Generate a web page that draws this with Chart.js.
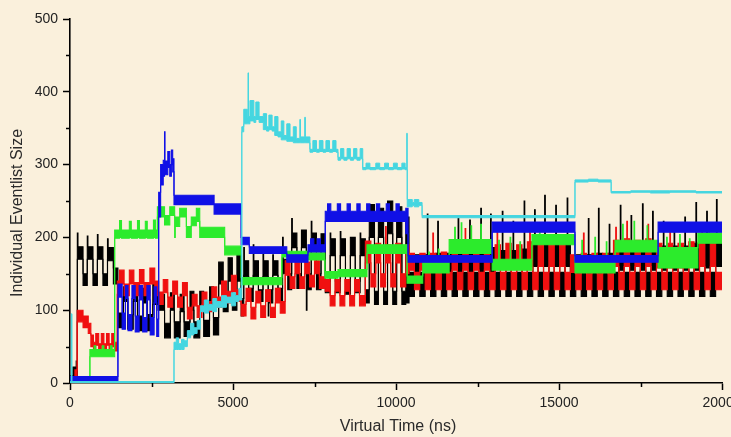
<!DOCTYPE html>
<html>
<head>
<meta charset="utf-8">
<script src="https://cdn.jsdelivr.net/npm/chart.js@4/dist/chart.umd.min.js"></script>
<style>
  html, body { margin: 0; padding: 0; overflow: hidden; background: #FAF0DC; }
  #wrap { width: 752px; height: 437px; }
</style>
</head>
<body>
<div id="wrap"><canvas id="c" width="752" height="437"></canvas></div>
<script>
// Event-list size of each logical process over virtual time.
// Each row: [start time (ns), low, high] - the list size swings between
// low and high from that time until the next row starts.
const END_TIME = 20000;

const xTitle = 'Virtual Time (ns)';
const yTitle = 'Individual Eventlist Size';
const xTicksMajor = [0, 5000, 10000, 15000, 20000];
const xTicksMinor = [2500, 7500, 12500, 17500];
const yTicksMinor = [50, 150, 250, 350, 450];

const blackRows = [
  [0, 3, 10], [90, 6, 22], [190, 10, 30],
  [225, 170, 206], [245, 170, 187], [400, 134, 150],
  [530, 170, 202], [550, 170, 187], [705, 134, 150],
  [840, 170, 204], [860, 170, 187], [1010, 134, 150],
  [1150, 170, 198], [1170, 168, 186], [1330, 136, 158],
  [1470, 76, 96], [1640, 112, 132], [1770, 74, 94], [1940, 112, 134],
  [2070, 72, 92], [2240, 110, 130], [2370, 72, 94], [2540, 108, 136],
  [2700, 100, 122], [2900, 62, 82], [3080, 100, 124], [3200, 62, 84],
  [3380, 98, 122], [3500, 64, 84], [3680, 100, 126], [3800, 62, 84],
  [3980, 102, 126], [4100, 64, 86], [4280, 104, 132], [4400, 66, 90],
  [4560, 136, 166], [4700, 98, 120], [4850, 140, 172], [4980, 100, 122],
  [5120, 140, 176], [5250, 92, 116],
  [5330, 148, 186], [5350, 146, 168], [5480, 112, 130],
  [5620, 148, 190], [5640, 146, 168], [5780, 112, 128],
  [5920, 146, 182], [5940, 146, 168], [6080, 92, 128], [6100, 110, 128],
  [6220, 148, 176], [6240, 148, 168], [6380, 112, 130],
  [6520, 150, 200], [6540, 150, 170], [6680, 128, 150],
  [6800, 186, 226], [6820, 186, 206], [6960, 130, 150],
  [7100, 186, 210], [7250, 100, 150], [7270, 128, 150],
  [7400, 186, 222], [7420, 186, 206], [7560, 128, 150], [7700, 186, 205],
  [7830, 124, 140], [7980, 175, 206], [8000, 175, 198], [8140, 124, 140],
  [8290, 175, 208], [8310, 175, 198], [8450, 122, 140], [8600, 175, 200],
  [8750, 124, 140], [8900, 175, 206], [8920, 175, 198],
  [9060, 110, 128], [9180, 200, 245], [9340, 108, 126], [9460, 200, 240],
  [9620, 108, 126], [9740, 205, 250], [9900, 108, 126], [10020, 200, 242],
  [10180, 108, 126], [10300, 110, 228],
  [10400, 119, 152], [10565, 150, 176],
  [10730, 119, 152], [10895, 150, 176], [10960, 150, 232], [10980, 150, 176],
  [11060, 119, 152], [11225, 150, 178], [11280, 150, 222], [11300, 150, 178],
  [11390, 119, 152], [11555, 150, 178],
  [11720, 119, 152], [11885, 150, 180], [11905, 150, 226], [11925, 150, 180],
  [12050, 119, 152], [12215, 150, 182], [12260, 150, 224], [12280, 150, 182],
  [12380, 119, 152], [12545, 150, 182], [12600, 150, 240], [12620, 150, 182],
  [12710, 119, 152], [12875, 150, 186], [12900, 150, 232], [12920, 150, 186],
  [13040, 119, 152], [13205, 158, 182], [13260, 158, 236], [13280, 158, 182],
  [13370, 119, 152], [13535, 158, 182], [13590, 158, 222], [13610, 158, 182],
  [13700, 119, 152], [13865, 158, 184], [13930, 158, 250], [13950, 158, 184],
  [14030, 119, 152], [14195, 160, 200], [14250, 160, 238], [14270, 160, 200],
  [14360, 119, 152], [14525, 160, 200], [14560, 160, 258], [14580, 160, 200],
  [14690, 119, 152], [14855, 160, 200], [14900, 160, 244], [14920, 160, 200],
  [15020, 119, 152], [15185, 160, 200], [15250, 160, 254], [15270, 160, 200],
  [15350, 119, 152], [15515, 150, 176],
  [15680, 119, 152], [15845, 150, 176], [15900, 150, 226], [15920, 150, 176],
  [16010, 119, 152], [16175, 150, 178], [16210, 150, 240], [16230, 150, 178],
  [16340, 119, 152], [16505, 150, 178], [16540, 150, 218], [16560, 150, 178],
  [16670, 119, 152], [16835, 155, 190], [16880, 155, 244], [16900, 155, 190],
  [17000, 119, 152], [17165, 155, 190], [17210, 155, 230], [17230, 155, 190],
  [17330, 119, 152], [17495, 155, 190], [17560, 155, 246], [17580, 155, 190],
  [17660, 119, 152], [17825, 155, 190], [17870, 155, 236], [17890, 155, 190],
  [17990, 119, 152], [18155, 155, 188], [18200, 155, 222], [18220, 155, 188],
  [18320, 119, 152], [18485, 155, 188], [18530, 155, 218], [18550, 155, 188],
  [18650, 119, 152], [18815, 155, 188], [18860, 155, 228], [18880, 155, 188],
  [18980, 119, 152], [19145, 155, 192], [19200, 155, 248], [19220, 155, 192],
  [19310, 119, 152], [19475, 158, 194], [19530, 158, 236], [19550, 158, 194],
  [19640, 119, 152], [19805, 160, 196], [19830, 160, 252], [19850, 160, 196]
];

const redRows = [
  [0, 1, 6], [150, 4, 18], [220, 84, 100], [400, 76, 92], [560, 68, 82],
  [640, 50, 66], [720, 44, 56], [790, 52, 68], [880, 44, 54], [960, 52, 68],
  [1040, 44, 54], [1120, 52, 68], [1200, 44, 54], [1280, 50, 68], [1360, 44, 56],
  [1450, 122, 140], [1520, 136, 155], [1660, 120, 136], [1820, 136, 155],
  [1960, 120, 138], [2130, 136, 156], [2270, 120, 138], [2450, 136, 158],
  [2600, 120, 140], [2720, 108, 125], [2860, 124, 142], [3000, 104, 118],
  [3150, 122, 140], [3300, 104, 118], [3450, 120, 138], [3600, 88, 104],
  [3750, 106, 122], [3900, 90, 106], [4050, 108, 125], [4200, 98, 112],
  [4350, 112, 132], [4500, 104, 118], [4650, 120, 140], [4800, 110, 126],
  [4950, 125, 148], [5100, 112, 128], [5250, 92, 108], [5400, 112, 130],
  [5550, 88, 104], [5700, 110, 126], [5850, 90, 106], [6000, 112, 128],
  [6150, 90, 104], [6300, 110, 130], [6450, 96, 112],
  [6600, 148, 168], [6750, 130, 146], [6900, 150, 168], [7050, 130, 146],
  [7200, 150, 166], [7350, 132, 148], [7500, 150, 168], [7650, 130, 146],
  [7830, 126, 142], [7980, 106, 120], [8130, 126, 142], [8280, 106, 120],
  [8430, 126, 142], [8580, 106, 120], [8730, 126, 142], [8880, 106, 120],
  [9060, 165, 195], [9230, 132, 150], [9380, 165, 192], [9530, 132, 150],
  [9680, 168, 215], [9700, 165, 190], [9840, 132, 150], [9990, 165, 192],
  [10140, 132, 150], [10300, 150, 190],
  [10400, 155, 178], [10565, 128, 152], [10730, 155, 178], [10895, 128, 152],
  [11060, 155, 178], [11130, 155, 206], [11150, 155, 178], [11225, 128, 152],
  [11390, 155, 180], [11555, 128, 152], [11720, 155, 180], [11885, 128, 152],
  [12050, 155, 182], [12120, 155, 212], [12140, 155, 182], [12215, 128, 152],
  [12380, 155, 182], [12545, 128, 152], [12710, 155, 184], [12875, 128, 152],
  [13040, 158, 190], [13100, 158, 214], [13120, 158, 190], [13205, 128, 152],
  [13370, 158, 192], [13535, 128, 152], [13700, 158, 190], [13865, 128, 152],
  [14030, 160, 194], [14100, 160, 218], [14120, 160, 194], [14195, 128, 152],
  [14360, 160, 194], [14525, 128, 152], [14690, 160, 194], [14855, 128, 152],
  [15020, 160, 194], [15185, 128, 152], [15350, 152, 176], [15515, 128, 150],
  [15680, 152, 178], [15750, 152, 206], [15770, 152, 178], [15845, 128, 150],
  [16010, 152, 178], [16175, 128, 150], [16340, 152, 178], [16505, 128, 150],
  [16670, 160, 196], [16740, 160, 214], [16760, 160, 196], [16835, 128, 152],
  [17000, 160, 198], [17080, 160, 222], [17100, 160, 198], [17165, 128, 152],
  [17330, 160, 196], [17495, 128, 152], [17660, 160, 198], [17730, 160, 218],
  [17750, 160, 198], [17825, 128, 152], [17990, 158, 192], [18155, 128, 152],
  [18320, 158, 192], [18400, 158, 212], [18420, 158, 192], [18485, 128, 152],
  [18650, 158, 192], [18815, 128, 152], [18980, 160, 194], [19145, 128, 152],
  [19310, 160, 194], [19380, 160, 214], [19400, 160, 194], [19475, 128, 152],
  [19640, 160, 194], [19805, 128, 152]
];

const greenRows = [
  [0, 1, 4], [610, 36, 46],
  [740, 36, 51], [790, 36, 46], [990, 36, 51], [1040, 36, 46],
  [1240, 36, 51], [1290, 36, 46],
  [1370, 199, 210], [1520, 200, 223], [1580, 199, 210], [1820, 200, 222],
  [1880, 199, 210], [2070, 200, 223], [2130, 199, 210], [2310, 200, 222],
  [2370, 199, 210], [2560, 200, 224], [2620, 199, 210],
  [2680, 228, 242], [2900, 217, 230], [3060, 230, 242], [3210, 200, 228],
  [3230, 215, 228], [3365, 228, 240], [3570, 200, 215], [3720, 216, 228],
  [3875, 222, 240], [3980, 200, 214], [4745, 176, 188], [5250, 135, 145],
  [6500, 173, 181], [7300, 169, 179], [7820, 144, 153], [8220, 146, 156],
  [9110, 178, 190], [10340, 137, 147],
  [10820, 151, 166], [11000, 151, 180], [11020, 151, 166], [11300, 151, 184], [11320, 151, 166],
  [11630, 178, 197], [11800, 178, 214], [11820, 178, 197], [12000, 178, 220],
  [12020, 178, 197], [12300, 178, 216], [12320, 178, 197], [12600, 178, 218], [12620, 178, 197],
  [12950, 155, 170], [13150, 155, 196], [13170, 155, 170], [13500, 155, 200],
  [13520, 155, 170], [13800, 155, 194], [13820, 155, 170],
  [14170, 190, 204], [14400, 190, 212], [14420, 190, 204],
  [15490, 151, 167], [15700, 151, 196], [15720, 151, 167], [16100, 151, 200],
  [16120, 151, 167], [16450, 151, 194], [16470, 151, 167],
  [16720, 180, 196], [16950, 180, 218], [16970, 180, 196], [17300, 180, 222],
  [17320, 180, 196], [17700, 180, 216], [17720, 180, 196],
  [18040, 158, 186], [18300, 158, 200], [18320, 158, 186], [18700, 158, 204],
  [18720, 158, 186], [19000, 158, 198], [19020, 158, 186],
  [19260, 192, 206], [19600, 192, 214], [19620, 192, 206]
];

const blueRows = [
  [0, 2, 9],
  [1470, 118, 136], [1600, 74, 96], [1700, 116, 134], [1780, 72, 94],
  [1900, 116, 134], [2000, 70, 92], [2120, 114, 134], [2230, 70, 90],
  [2360, 114, 134], [2460, 66, 90], [2580, 110, 132], [2660, 64, 88],
  [2720, 228, 262], [2780, 272, 300], [2860, 284, 306], [2900, 288, 345],
  [2915, 286, 305], [3000, 296, 318], [3060, 284, 300], [3110, 300, 320],
  [3150, 290, 308], [3190, 245, 258], [4420, 232, 246], [5250, 190, 200],
  [5500, 178, 187], [6650, 166, 176],
  [7300, 180, 190], [7380, 180, 198], [7480, 180, 190], [7580, 180, 198],
  [7680, 180, 190],
  [7830, 222, 236], [7900, 222, 246], [8000, 222, 236], [8200, 222, 246],
  [8300, 222, 236], [8500, 222, 246], [8600, 222, 236], [8800, 222, 246],
  [8900, 222, 236], [9100, 222, 246], [9200, 222, 236], [9400, 222, 246],
  [9500, 222, 236], [9700, 222, 246], [9800, 222, 236], [10000, 222, 246],
  [10100, 222, 236], [10300, 205, 240],
  [10370, 166, 175], [12950, 207, 221], [15490, 166, 175], [18040, 207, 221]
];

const cyanRows = [
  [0, 0, 2], [40, 0, 95], [60, 0, 2],
  [3190, 46, 56], [3260, 46, 62], [3330, 46, 54], [3420, 46, 60], [3500, 50, 58],
  [3600, 62, 72], [3700, 66, 82], [3800, 68, 76], [3900, 74, 86], [4000, 98, 106],
  [4120, 96, 114], [4250, 100, 108], [4380, 98, 116], [4500, 104, 112],
  [4650, 104, 120], [4800, 110, 118], [4950, 106, 124], [5080, 112, 120],
  [5180, 114, 130],
  [5270, 345, 352], [5330, 356, 376], [5440, 356, 364], [5460, 356, 426],
  [5475, 356, 366], [5520, 360, 388], [5640, 358, 366], [5700, 362, 386],
  [5800, 358, 366], [5930, 348, 370], [6030, 346, 352], [6100, 348, 368],
  [6200, 346, 352], [6280, 340, 366], [6380, 338, 345], [6480, 334, 360],
  [6560, 334, 340], [6650, 332, 356], [6750, 332, 338], [6850, 330, 352],
  [6940, 330, 336], [7050, 330, 362], [7070, 330, 338], [7200, 330, 365],
  [7220, 330, 338],
  [7360, 317, 321], [7450, 318, 333], [7560, 317, 321], [7650, 318, 333],
  [7760, 317, 321], [7850, 318, 333], [7960, 317, 321], [8060, 318, 333],
  [8160, 317, 321],
  [8220, 306, 310], [8300, 308, 322], [8400, 306, 310], [8500, 308, 322],
  [8600, 306, 310], [8700, 308, 322], [8800, 306, 310], [8900, 308, 322],
  [8980, 293, 296], [9080, 294, 302], [9200, 293, 296], [9380, 294, 302],
  [9500, 293, 296], [9650, 294, 302], [9770, 293, 296], [9920, 294, 302],
  [10040, 293, 296], [10180, 294, 302], [10280, 293, 296],
  [10330, 293, 343], [10345, 242, 252], [10500, 244, 248], [10560, 242, 252],
  [10700, 244, 248], [10800, 227, 230],
  [15490, 276, 279], [15900, 277, 280], [16200, 276, 279],
  [16600, 261, 263], [17200, 262, 264], [17800, 261, 264], [18400, 262, 264],
  [19200, 261, 263]
];

// One filled step band per process: an upper trace filled down to a lower trace.
function bandDatasets(rows, color, order, width) {
  const upper = rows.map(r => ({ x: r[0], y: r[2] }));
  const lower = rows.map(r => ({ x: r[0], y: r[1] }));
  const last = rows[rows.length - 1];
  upper.push({ x: END_TIME, y: last[2] });
  lower.push({ x: END_TIME, y: last[1] });
  const common = {
    borderColor: color, borderWidth: width, stepped: true, pointRadius: 0,
    tension: 0, order: order
  };
  return [
    Object.assign({ data: upper, fill: '+1', backgroundColor: color }, common),
    Object.assign({ data: lower, fill: false }, common)
  ];
}

const datasets = [].concat(
  bandDatasets(cyanRows, '#45D6E0', 1, 1),
  bandDatasets(blueRows, '#1010E6', 2, 1.1),
  bandDatasets(greenRows, '#2CEB2C', 3, 1.1),
  bandDatasets(redRows, '#F01010', 4, 1.1),
  bandDatasets(blackRows, '#000000', 5, 1.1)
);

const tickFont = { family: '"Liberation Sans", Arial, sans-serif', size: 14 };

// Minor tick marks and the two axis titles.
const axisDecor = {
  id: 'axisDecor',
  afterDraw(chart) {
    const { ctx, chartArea, scales: { x, y } } = chart;
    ctx.save();
    ctx.strokeStyle = '#000';
    ctx.lineWidth = 1.5;
    ctx.beginPath();
    xTicksMinor.forEach(v => {
      const px = Math.round(x.getPixelForValue(v)) + 0.5;
      ctx.moveTo(px, chartArea.bottom);
      ctx.lineTo(px, chartArea.bottom + 4);
    });
    yTicksMinor.forEach(v => {
      const py = Math.round(y.getPixelForValue(v)) + 0.5;
      ctx.moveTo(chartArea.left, py);
      ctx.lineTo(chartArea.left - 4, py);
    });
    ctx.stroke();

    ctx.fillStyle = '#2a2a2a';
    ctx.font = '16px "Liberation Sans", Arial, sans-serif';
    ctx.textAlign = 'center';
    ctx.textBaseline = 'middle';
    ctx.fillText(xTitle, (chartArea.left + chartArea.right) / 2 + 2, chartArea.bottom + 44);
    ctx.translate(18, (chartArea.top + chartArea.bottom) / 2 + 12);
    ctx.rotate(-Math.PI / 2);
    ctx.fillText(yTitle, 0, 0);
    ctx.restore();
  }
};

new Chart(document.getElementById('c'), {
  type: 'line',
  data: { datasets },
  options: {
    responsive: false,
    animation: false,
    events: [],
    layout: { padding: { left: 0, right: 30, top: 19, bottom: 0 } },
    plugins: { legend: { display: false }, tooltip: { enabled: false } },
    scales: {
      x: {
        type: 'linear', min: 0, max: END_TIME,
        afterBuildTicks: s => { s.ticks = xTicksMajor.map(v => ({ value: v })); },
        afterFit: s => { s.height = 54; },
        ticks: { font: tickFont, color: '#222', padding: 5, maxRotation: 0, autoSkip: false,
                 callback: v => String(v) },
        grid: { drawOnChartArea: false, drawTicks: true, tickLength: 7, tickColor: '#000', tickWidth: 1.5 },
        border: { display: true, color: '#000', width: 1.6 }
      },
      y: {
        type: 'linear', min: 0, max: 500,
        afterFit: s => { s.width = 70; },
        ticks: { stepSize: 100, font: tickFont, color: '#222', padding: 5 },
        grid: { drawOnChartArea: false, drawTicks: true, tickLength: 7, tickColor: '#000', tickWidth: 1.5 },
        border: { display: true, color: '#000', width: 1.6 }
      }
    }
  },
  plugins: [axisDecor]
});
</script>
</body>
</html>
